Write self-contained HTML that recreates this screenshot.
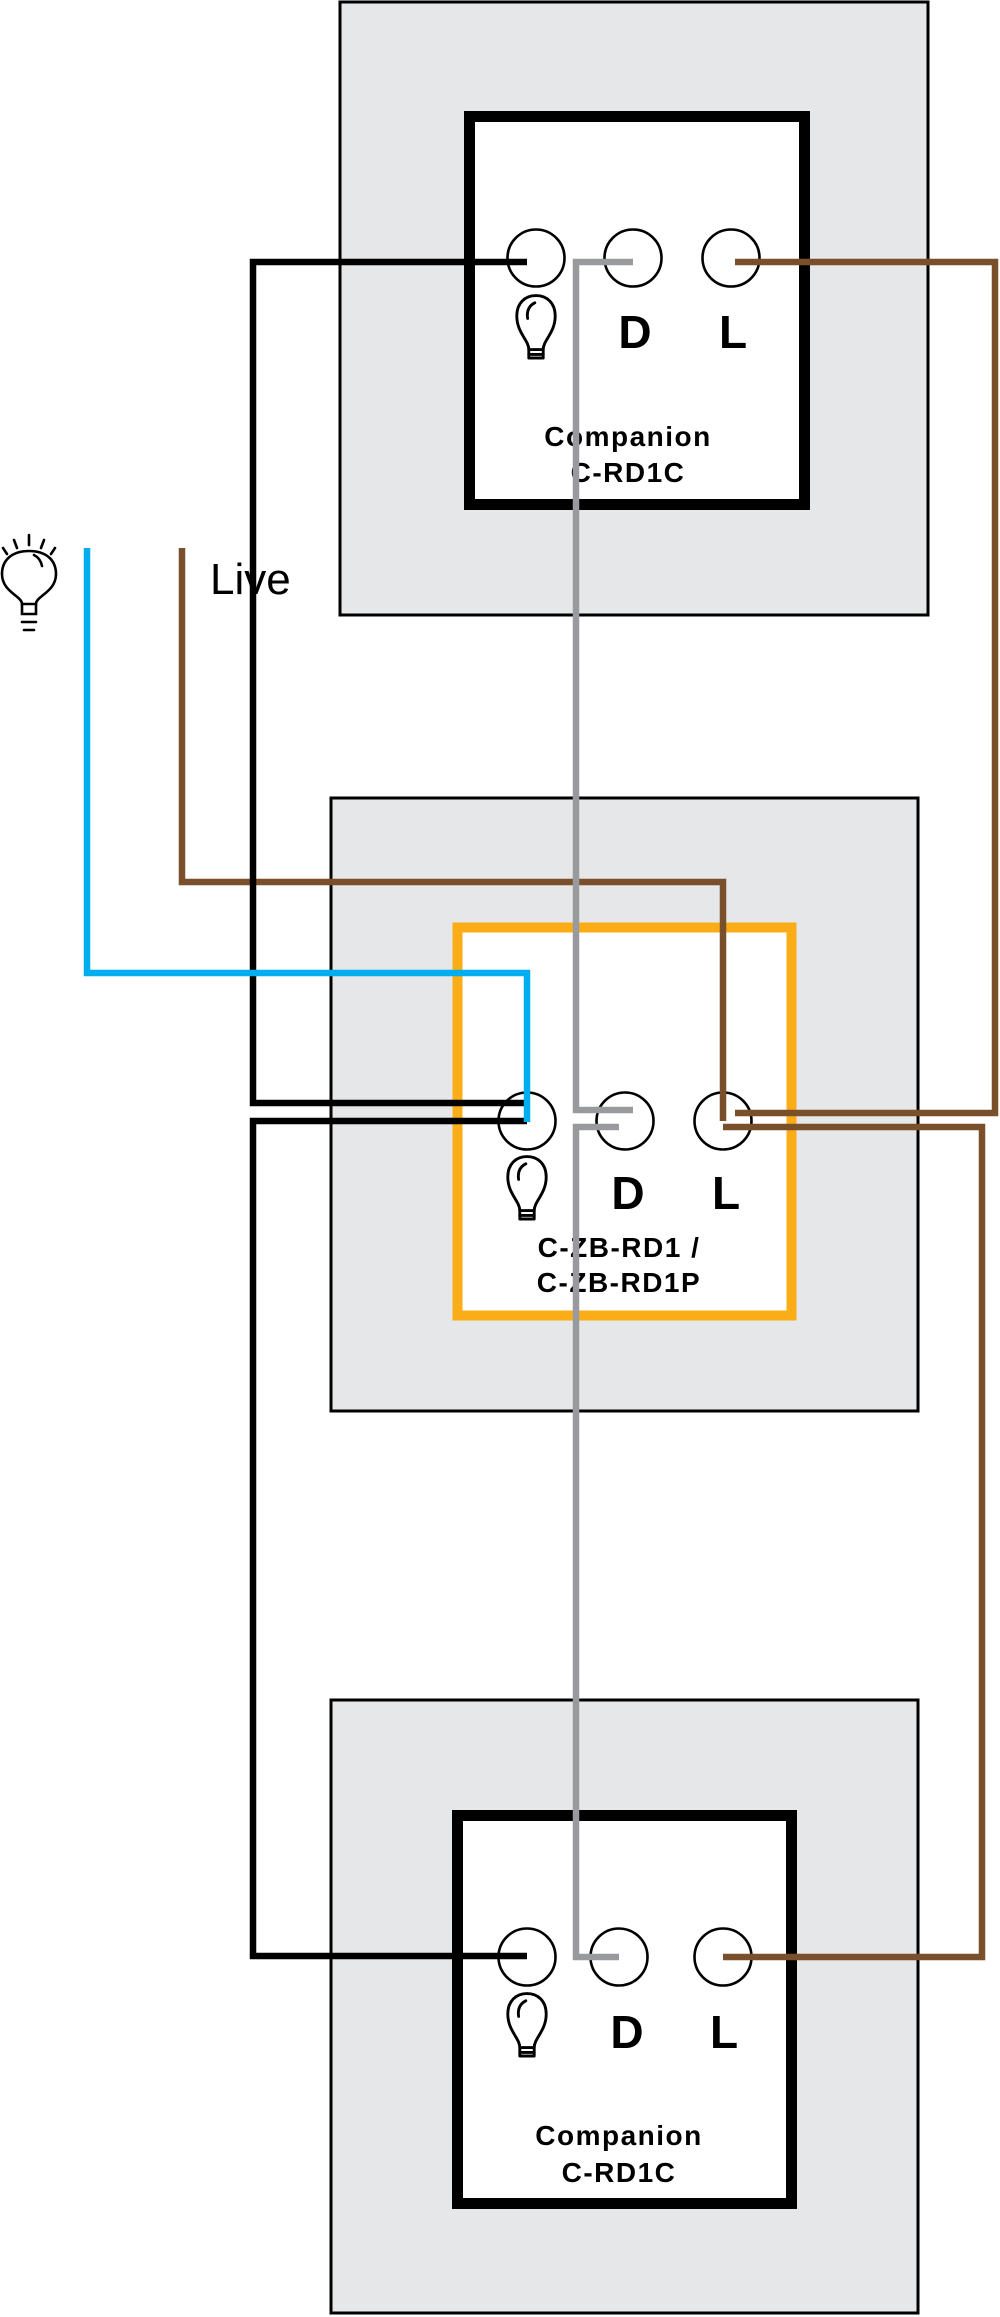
<!DOCTYPE html>
<html><head><meta charset="utf-8"><style>html,body{margin:0;padding:0;background:#fff}svg{display:block}</style></head>
<body>
<svg width="1000" height="2317" viewBox="0 0 1000 2317" xmlns="http://www.w3.org/2000/svg">
<defs>
<g id="bulb" fill="none" stroke="#000" stroke-width="2.4" stroke-linejoin="round" stroke-linecap="round" transform="scale(1.2)">
<path d="M-6,18 C-6,10 -16,4 -16,-10 C-16,-21 -9,-27 0,-27 C9,-27 16,-21 16,-10 C16,4 6,10 6,18 Z"/>
<path d="M-6,18 L-6,25 L6,25 L6,18"/>
<path d="M-6,22 L6,22"/>
<path d="M-7,-8 C-8,-15 -5,-19 -1,-21"/>
</g>
</defs>
<rect x="340" y="2" width="588" height="613" fill="#e6e7e8" stroke="#000" stroke-width="3"/>
<rect x="331" y="798" width="587" height="613" fill="#e6e7e8" stroke="#000" stroke-width="3"/>
<rect x="331" y="1700" width="587" height="613" fill="#e6e7e8" stroke="#000" stroke-width="3"/>
<rect x="469.5" y="116.5" width="335" height="388" fill="#fff" stroke="#000" stroke-width="11"/>
<rect x="457.5" y="927.5" width="334" height="388" fill="#fff" stroke="#fbad18" stroke-width="10"/>
<rect x="457.5" y="1815.5" width="334" height="388" fill="#fff" stroke="#000" stroke-width="11"/>
<g fill="#fff" stroke="#000" stroke-width="2.6">
<circle cx="536" cy="258" r="28.5"/><circle cx="633" cy="258" r="28.5"/><circle cx="731" cy="258" r="28.5"/>
<circle cx="527" cy="1121" r="28.5"/><circle cx="625" cy="1121" r="28.5"/><circle cx="723" cy="1121" r="28.5"/>
<circle cx="527" cy="1957" r="28.5"/><circle cx="619" cy="1957" r="28.5"/><circle cx="723" cy="1957" r="28.5"/>
</g>
<g font-family="'Liberation Sans',sans-serif" font-weight="bold" fill="#000">
<text x="635" y="348" font-size="46" text-anchor="middle">D</text>
<text x="733" y="348" font-size="46" text-anchor="middle">L</text>
<text x="628" y="1209" font-size="46" text-anchor="middle">D</text>
<text x="726" y="1209" font-size="46" text-anchor="middle">L</text>
<text x="627" y="2048" font-size="46" text-anchor="middle">D</text>
<text x="724" y="2048" font-size="46" text-anchor="middle">L</text>
</g>
<g font-family="'Liberation Sans',sans-serif" font-weight="bold" fill="#000" font-size="28" letter-spacing="1.5" text-anchor="middle">
<text x="628" y="446">Companion</text>
<text x="628" y="482">C-RD1C</text>
<text x="619" y="1257">C-ZB-RD1 /</text>
<text x="619" y="1292">C-ZB-RD1P</text>
<text x="619" y="2145">Companion</text>
<text x="619" y="2182">C-RD1C</text>
</g>
<use href="#bulb" x="536" y="328"/>
<use href="#bulb" x="527" y="1189"/>
<use href="#bulb" x="527" y="2026"/>
<text x="210" y="594" font-family="'Liberation Sans',sans-serif" font-size="44" fill="#000">Live</text>
<g fill="none" stroke="#000" stroke-width="2.6" stroke-linecap="round">
<path d="M22,604 C22,596 2,592 2,574 C2,560 12,551 29,551 C46,551 56,560 56,574 C56,592 36,596 36,604 Z"/>
<path d="M22,604 L22,614 L36,614 L36,604"/>
<path d="M22,622 L36,622"/><path d="M24,630 L34,630"/>
<path d="M42,566 C41,561 38,557 34,555"/>
<path d="M29,535 L29,545"/><path d="M14,540 L17,548"/><path d="M44,540 L41,548"/><path d="M3,548 L7,554"/><path d="M55,548 L51,554"/>
</g>
<g fill="none" stroke-width="6.5" stroke-linejoin="miter" stroke-linecap="butt">
<path d="M182,548 L182,882 L723,882 L723,1121" stroke="#7a4f2b"/>
<path d="M527,262 L253,262 L253,1103 L527,1103" stroke="#000"/>
<path d="M527,1121 L253,1121 L253,1956 L527,1956" stroke="#000"/>
<path d="M87,548 L87,973 L527,973 L527,1122" stroke="#00aeef"/>
<path d="M633,262 L576,262 L576,1110 L633,1110" stroke="#999a9d"/>
<path d="M619,1127 L576,1127 L576,1957 L619,1957" stroke="#999a9d"/>
<path d="M735,262 L995,262 L995,1113 L735,1113" stroke="#7a4f2b"/>
<path d="M723,1127 L982,1127 L982,1957 L723,1957" stroke="#7a4f2b"/>
</g>
</svg>
</body></html>
